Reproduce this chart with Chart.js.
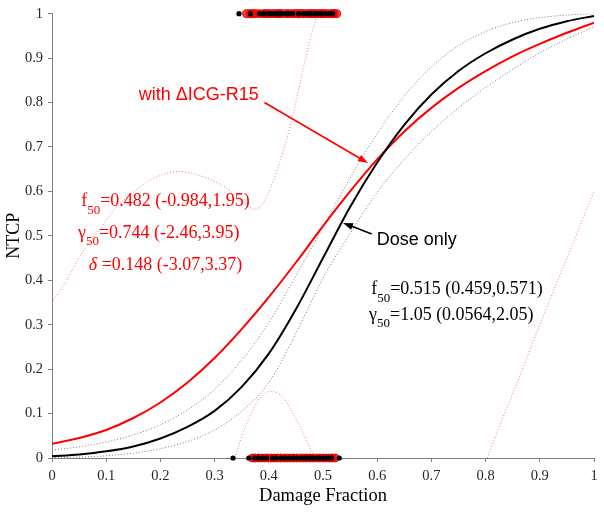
<!DOCTYPE html>
<html>
<head>
<meta charset="utf-8">
<script src="https://cdn.jsdelivr.net/npm/chart.js@4.4.1/dist/chart.umd.min.js"></script>
<style>
  html, body { margin: 0; padding: 0; background: #fff; }
  #wrap { width: 604px; height: 513px; position: relative; }
</style>
</head>
<body>
<div id="wrap"><canvas id="c" width="604" height="513"></canvas></div>
<script>
// ---- data ----
const fGrid = [0,0.05,0.1,0.15,0.2,0.25,0.3,0.35,0.4,0.45,0.5,0.55,0.6,0.65,0.7,0.75,0.8,0.85,0.9,0.95,1];
const doseOnlyFit = [0.004,0.008,0.015,0.026,0.044,0.07,0.106,0.16,0.235,0.335,0.45,0.565,0.665,0.75,0.818,0.871,0.911,0.942,0.966,0.983,0.995];
const icgFit      = [0.032,0.045,0.063,0.09,0.125,0.17,0.225,0.29,0.362,0.44,0.522,0.6,0.672,0.735,0.788,0.833,0.871,0.904,0.932,0.957,0.98];
const doseCIUpper = [0.018,0.025,0.036,0.052,0.075,0.108,0.155,0.22,0.305,0.41,0.52,0.63,0.73,0.815,0.88,0.928,0.96,0.98,0.991,0.997,1.0];
const doseCILower = [0.001,0.002,0.005,0.011,0.021,0.037,0.063,0.105,0.17,0.28,0.405,0.505,0.598,0.672,0.735,0.788,0.834,0.875,0.912,0.943,0.971];

// thin red dotted curves (ΔICG-R15 confidence band, clipped by the axes)
const icgBandUpperX = [0,0.027,0.057,0.088,0.119,0.15,0.18,0.21,0.235,0.26,0.29,0.316,0.34,0.36,0.375,0.39,0.408,0.42,0.432,0.445,0.457,0.468,0.479,0.49];
const icgBandUpperY = [0.35,0.40,0.465,0.515,0.565,0.598,0.625,0.64,0.645,0.64,0.628,0.612,0.59,0.568,0.56,0.575,0.623,0.665,0.713,0.775,0.84,0.9,0.955,1.0];
const icgBandLowAX = [0.337,0.345,0.355,0.365,0.375,0.385,0.395,0.403,0.415,0.425,0.435,0.445,0.458,0.47,0.485];
const icgBandLowAY = [0,0.03,0.065,0.093,0.118,0.137,0.147,0.15,0.147,0.138,0.122,0.1,0.07,0.038,0];
const icgBandLowBX = [0.803,0.83,0.86,0.9,0.95,1];
const icgBandLowBY = [0,0.085,0.175,0.3,0.45,0.6];

// observed outcomes (damage fraction), NTCP = 1 (top) and 0 (bottom)
const eventsDose = [0.345,0.366,0.383,0.391,0.399,0.405,0.411,0.417,0.423,0.431,0.437,0.444,0.455,0.464,0.471,0.477,0.485,0.491,0.497,0.505,0.512,0.518];
const eventsICG  = [0.359,0.366,0.37,0.375,0.383,0.391,0.395,0.399,0.405,0.411,0.417,0.42,0.423,0.431,0.437,0.444,0.45,0.455,0.46,0.464,0.471,0.477,0.48,0.485,0.491,0.497,0.5,0.505,0.512,0.518,0.52,0.525];
const noEventsDose = [0.334,0.363,0.374,0.381,0.389,0.396,0.407,0.414,0.423,0.43,0.438,0.445,0.452,0.46,0.466,0.472,0.478,0.483,0.489,0.494,0.5,0.505,0.51,0.516,0.53];
const noEventsICG  = [0.37,0.375,0.381,0.386,0.392,0.398,0.404,0.41,0.416,0.422,0.428,0.434,0.44,0.446,0.452,0.458,0.464,0.47,0.476,0.482,0.488,0.494,0.5,0.506,0.512,0.517,0.522];

const xTicks = [0,0.1,0.2,0.3,0.4,0.5,0.6,0.7,0.8,0.9,1];
const yTicks = [0,0.1,0.2,0.3,0.4,0.5,0.6,0.7,0.8,0.9,1];

// ---- helpers ----
const pts = (xs, ys) => xs.map((x, i) => ({x: x, y: ys[i]}));
const row = (xs, v) => xs.map(x => ({x: x, y: v}));

const SERIF = '"Liberation Serif", "Times New Roman", serif';
const SANS = '"Liberation Sans", Arial, sans-serif';

const annotations = {
  id: 'annotations',
  afterDraw(chart) {
    const ctx = chart.ctx;
    const X = v => chart.scales.x.getPixelForValue(v);
    const Y = v => chart.scales.y.getPixelForValue(v);

    function arrow(x0, y0, x1, y1, color) {
      ctx.save();
      ctx.strokeStyle = color; ctx.fillStyle = color; ctx.lineWidth = 1.6;
      const a = Math.atan2(y1 - y0, x1 - x0);
      const L = 10, W = 3.5;
      ctx.beginPath(); ctx.moveTo(x0, y0); ctx.lineTo(x1 - L * 0.8 * Math.cos(a), y1 - L * 0.8 * Math.sin(a)); ctx.stroke();
      ctx.beginPath();
      ctx.moveTo(x1, y1);
      ctx.lineTo(x1 - L * Math.cos(a) + W * Math.sin(a), y1 - L * Math.sin(a) - W * Math.cos(a));
      ctx.lineTo(x1 - L * Math.cos(a) - W * Math.sin(a), y1 - L * Math.sin(a) + W * Math.cos(a));
      ctx.closePath(); ctx.fill();
      ctx.restore();
    }

    function rich(parts, x, y, color, size) {
      ctx.save();
      ctx.fillStyle = color; ctx.textBaseline = 'alphabetic'; ctx.textAlign = 'left';
      let cx = x;
      for (const p of parts) {
        const fs = p.sub ? size * 0.72 : size;
        ctx.font = (p.italic ? 'italic ' : '') + fs + 'px ' + SERIF;
        ctx.fillText(p.t, cx, y + (p.sub ? size * 0.42 : 0));
        cx += ctx.measureText(p.t).width;
      }
      ctx.restore();
    }

    // callouts
    ctx.save();
    ctx.font = '18px ' + SANS; ctx.textBaseline = 'alphabetic';
    ctx.fillStyle = '#ff0000';
    ctx.fillText('with \u0394ICG-R15', X(0.16), Y(0.806));
    ctx.fillStyle = '#000000';
    ctx.fillText('Dose only', X(0.599), Y(0.4805));
    ctx.restore();
    arrow(X(0.392), Y(0.800), X(0.583), Y(0.664), '#ff0000');
    arrow(X(0.590), Y(0.504), X(0.537), Y(0.529), '#000000');

    // fit parameters
    const red = '#ff0000';
    rich([{t:'f'},{t:'50',sub:true},{t:'=0.482 (-0.984,1.95)'}], X(0.054), Y(0.567), red, 18);
    rich([{t:'\u03b3'},{t:'50',sub:true},{t:'=0.744 (-2.46,3.95)'}], X(0.048), Y(0.496), red, 18);
    rich([{t:'\u03b4',italic:true},{t:' =0.148 (-3.07,3.37)'}], X(0.068), Y(0.423), red, 18);
    rich([{t:'f'},{t:'50',sub:true},{t:'=0.515 (0.459,0.571)'}], X(0.589), Y(0.369), '#000', 18);
    rich([{t:'\u03b3'},{t:'50',sub:true},{t:'=1.05 (0.0564,2.05)'}], X(0.585), Y(0.311), '#000', 18);

    // axis titles
    ctx.save();
    ctx.fillStyle = '#000';
    ctx.font = '18.5px ' + SERIF;
    ctx.textAlign = 'center'; ctx.textBaseline = 'alphabetic';
    const ca = chart.chartArea;
    ctx.fillText('Damage Fraction', (ca.left + ca.right) / 2, 501);
    ctx.translate(19, (ca.top + ca.bottom) / 2);
    ctx.rotate(-Math.PI / 2);
    ctx.font = '18px ' + SERIF;
    ctx.fillText('NTCP', 0, 0);
    ctx.restore();
  }
};

const dotted = (data, color, order) => ({
  type: 'line', data: data, borderColor: color, borderWidth: 1, borderDash: [1, 2],
  pointRadius: 0, fill: false, cubicInterpolationMode: 'monotone', order: order
});
const solid = (data, color, order) => ({
  type: 'line', data: data, borderColor: color, borderWidth: 2,
  pointRadius: 0, fill: false, cubicInterpolationMode: 'monotone', order: order
});
const dots = (data, opts, order) => Object.assign({
  type: 'line', data: data, showLine: false, clip: false, order: order, pointStyle: 'circle'
}, opts);

new Chart(document.getElementById('c'), {
  data: {
    datasets: [
      dots(row(eventsDose, 1), {pointRadius: 2.6, pointBackgroundColor: '#000', pointBorderColor: '#000', pointBorderWidth: 0}, 0),
      dots(row(noEventsDose, 0), {pointRadius: 2.6, pointBackgroundColor: '#000', pointBorderColor: '#000', pointBorderWidth: 0}, 0),
      dots(row(eventsICG, 1), {pointRadius: 4, pointBackgroundColor: 'rgba(255,0,0,0.75)', pointBorderColor: '#e00000', pointBorderWidth: 1}, 1),
      dots(row(noEventsICG, 0), {pointRadius: 4, pointBackgroundColor: 'rgba(255,0,0,0.75)', pointBorderColor: '#e00000', pointBorderWidth: 1}, 1),
      solid(pts(fGrid, doseOnlyFit), '#000000', 2),
      solid(pts(fGrid, icgFit), '#ff0000', 3),
      dotted(pts(fGrid, doseCIUpper), '#777777', 4),
      dotted(pts(fGrid, doseCILower), '#777777', 4),
      dotted(pts(icgBandUpperX, icgBandUpperY), 'rgba(255,60,60,0.7)', 5),
      dotted(pts(icgBandLowAX, icgBandLowAY), 'rgba(255,60,60,0.7)', 5),
      dotted(pts(icgBandLowBX, icgBandLowBY), 'rgba(255,60,60,0.7)', 5)
    ]
  },
  options: {
    responsive: false,
    animation: false,
    events: [],
    layout: { padding: { left: 0, right: 10, top: 12, bottom: 0 } },
    plugins: { legend: { display: false }, tooltip: { enabled: false } },
    scales: {
      x: {
        type: 'linear', min: 0, max: 1,
        afterFit: s => { s.height = 55; },
        afterBuildTicks: s => { s.ticks = xTicks.map(v => ({value: v})); },
        ticks: { color: '#262626', font: { family: SERIF, size: 14.5 }, padding: 5, maxRotation: 0,
                 callback: v => String(+v.toFixed(1)) },
        grid: { drawOnChartArea: false, drawTicks: true, tickLength: 4, color: '#808080', tickColor: '#808080' },
        border: { color: '#808080', width: 1 }
      },
      y: {
        type: 'linear', min: 0, max: 1,
        afterFit: s => { s.width = 52; },
        afterBuildTicks: s => { s.ticks = yTicks.map(v => ({value: v})); },
        ticks: { color: '#262626', font: { family: SERIF, size: 14.5 }, padding: 5,
                 callback: v => String(+v.toFixed(1)) },
        grid: { drawOnChartArea: false, drawTicks: true, tickLength: 4, color: '#808080', tickColor: '#808080' },
        border: { color: '#808080', width: 1 }
      }
    }
  },
  plugins: [annotations]
});
</script>
</body>
</html>
